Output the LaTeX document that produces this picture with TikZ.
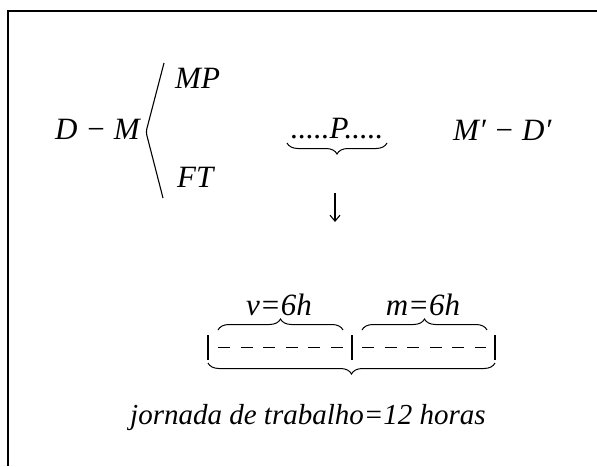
\documentclass[tikz,border=0pt]{standalone}
\usepackage{fontspec}
\setmainfont{Liberation Serif}[Ligatures=ResetAll]
\usetikzlibrary{decorations.pathreplacing,arrows.meta}
\tikzset{
  lbl/.style={inner sep=0pt,font=\fontsize{31}{36}\selectfont\itshape},
  lblsmall/.style={inner sep=0pt,font=\fontsize{29}{34}\selectfont\itshape},
  frameline/.style={line width=1.2pt},
  brc/.style={decorate,decoration={brace,amplitude=11pt},line width=1pt},
  brcm/.style={decorate,decoration={brace,amplitude=11pt,mirror},line width=1pt},
  thin line/.style={line width=1.1pt},
  dashline/.style={line width=0.9pt,dash pattern=on 12pt off 10.6pt}
}
\begin{document}
\begin{tikzpicture}[x=1pt,y=-1pt]
\useasboundingbox (0,0) rectangle (597,466);
% frame
\draw[frameline] (8,466) -- (8,11) -- (597,11);
% top row
\node[lbl,anchor=base east] (dm) at (140,139) {D − M};
\node[lbl,anchor=base west] (mp) at (175,88) {MP};
\node[lbl,anchor=base west] (ft) at (177,187) {FT};
\draw[thin line,rounded corners=3pt] (164,63) -- (146,132) -- (163,198);
\node[lbl,anchor=base] (p) at (337,138) {.....P.....};
\node[lbl,anchor=base west] (md) at (453,140) {M′ − D′};
\coordinate (pl) at (287,143);
\coordinate (pr) at (387,143);
\draw[brcm] (pl) -- (pr);
\coordinate (a1) at (335,193);
\coordinate (a2) at (335,222);
\draw[thin line,-{Straight Barb[length=6pt,width=10pt]}] (a1) -- (a2);
% lower part
\node[lbl,anchor=base] (v) at (279,315) {v=6h};
\node[lbl,anchor=base] (m) at (423,315) {m=6h};
\coordinate (vl) at (218,330);
\coordinate (vr) at (343,330);
\coordinate (ml) at (362,330);
\coordinate (mr) at (487,330);
\draw[brc] (vl) -- (vr);
\draw[brc] (ml) -- (mr);
\coordinate (b1t) at (208,335); \coordinate (b1b) at (208,360);
\coordinate (b2t) at (352,335); \coordinate (b2b) at (352,360);
\coordinate (b3t) at (495,335); \coordinate (b3b) at (495,360);
\draw[thin line] (b1t) -- (b1b);
\draw[thin line] (b2t) -- (b2b);
\draw[thin line] (b3t) -- (b3b);
\draw[dashline] (218,347) -- (343,347);
\draw[dashline] (362,347) -- (486,347);
\coordinate (jl) at (208,363);
\coordinate (jr) at (495,363);
\draw[brcm] (jl) -- (jr);
\node[lblsmall,anchor=base] (jt) at (308,424) {jornada de trabalho=12 horas};
\end{tikzpicture}
\end{document}
